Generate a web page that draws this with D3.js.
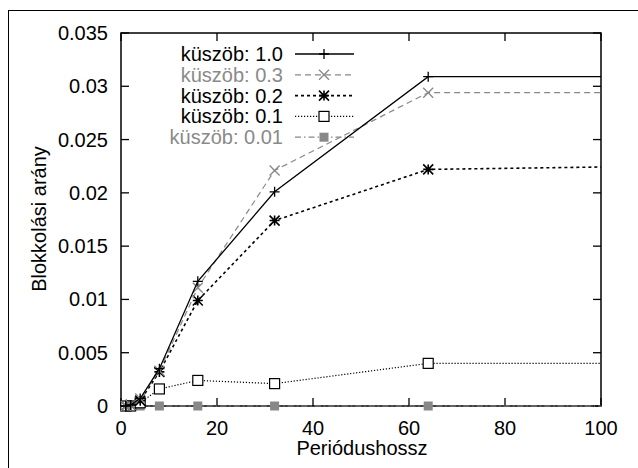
<!DOCTYPE html>
<html><head><meta charset="utf-8">
<script src="https://cdn.jsdelivr.net/npm/d3@7/dist/d3.min.js"></script>
<style>body{margin:0;background:#fff}svg{display:block}text{font-family:"Liberation Sans",Arial,Helvetica,sans-serif}</style>
</head><body><svg id="c" width="638" height="468"></svg>
<script>
const periods = [1, 2, 4, 8, 16, 32, 64, 128];
const seriesNames = ["küszöb: 1.0", "küszöb: 0.3", "küszöb: 0.2", "küszöb: 0.1", "küszöb: 0.01"];
const v10  = [0, 0.0001, 0.0007, 0.0035, 0.0117, 0.0201, 0.0309, 0.0309];
const v03  = [0, 0.0001, 0.0007, 0.0033, 0.0111, 0.0221, 0.0294, 0.0294];
const v02  = [0, 0.0001, 0.0005, 0.0032, 0.0099, 0.0174, 0.0222, 0.0226];
const v01  = [0, 0, 0.0003, 0.0016, 0.0024, 0.0021, 0.0040, 0.0040];
const v001 = [0, 0, 0, 0, 0, 0, 0, 0];
const xTicks = [0, 20, 40, 60, 80, 100];
const yTicks = [0, 0.005, 0.01, 0.015, 0.02, 0.025, 0.03, 0.035];

const styles = [
  {color:"#000", dash:null, w:1.3, marker:"plus"},
  {color:"#888", dash:"6,4", w:1.2, marker:"cross"},
  {color:"#000", dash:"3,3", w:1.6, marker:"star"},
  {color:"#000", dash:"1.2,1.8", w:1.2, marker:"box"},
  {color:"#888", dash:"6,3,1.5,3", w:1.2, marker:"fbox"}
];
const allVals = [v10, v03, v02, v01, v001];

const svg = d3.select("#c");
svg.append("rect").attr("x",8.5).attr("y",10.5).attr("width",640).attr("height",470)
  .attr("fill","none").attr("stroke","#000").attr("stroke-width",1);

const L=121, R=601, T=33, B=406;
const x = d3.scaleLinear().domain([0,100]).range([L,R]);
const y = d3.scaleLinear().domain([0,0.035]).range([B,T]);

svg.append("defs").append("clipPath").attr("id","clp").append("rect")
  .attr("x",L-6).attr("y",T).attr("width",R-L+6).attr("height",B-T+6);

const FS = 20;
const g = svg.append("g");
g.append("rect").attr("x",L).attr("y",T).attr("width",R-L).attr("height",B-T)
  .attr("fill","none").attr("stroke","#000").attr("stroke-width",1.5);
const tl = 8;
xTicks.forEach(t=>{
  g.append("line").attr("x1",x(t)).attr("x2",x(t)).attr("y1",B).attr("y2",B-tl).attr("stroke","#000").attr("stroke-width",1.3);
  g.append("line").attr("x1",x(t)).attr("x2",x(t)).attr("y1",T).attr("y2",T+tl).attr("stroke","#000").attr("stroke-width",1.3);
  g.append("text").attr("x",x(t)).attr("y",435).attr("text-anchor","middle").attr("font-size",FS).text(t);
});
yTicks.forEach(t=>{
  g.append("line").attr("x1",L).attr("x2",L+tl).attr("y1",y(t)).attr("y2",y(t)).attr("stroke","#000").attr("stroke-width",1.3);
  g.append("line").attr("x1",R).attr("x2",R-tl).attr("y1",y(t)).attr("y2",y(t)).attr("stroke","#000").attr("stroke-width",1.3);
  g.append("text").attr("x",L-13).attr("y",y(t)+7).attr("text-anchor","end").attr("font-size",FS).text(d3.format("")(t));
});
g.append("text").attr("x",362).attr("y",455).attr("text-anchor","middle").attr("font-size",FS).text("Periódushossz");
g.append("text").attr("transform","translate(46,219) rotate(-90)").attr("text-anchor","middle").attr("font-size",FS).text("Blokkolási arány");

function marker(sel, type, color, cx, cy){
  const s = 5;
  if(type==="plus"){
    sel.append("path").attr("d",`M${cx-s},${cy}H${cx+s}M${cx},${cy-s}V${cy+s}`).attr("stroke",color).attr("stroke-width",1.3).attr("fill","none");
  } else if(type==="cross"){
    sel.append("path").attr("d",`M${cx-s},${cy-s}L${cx+s},${cy+s}M${cx-s},${cy+s}L${cx+s},${cy-s}`).attr("stroke",color).attr("stroke-width",1.3).attr("fill","none");
  } else if(type==="star"){
    sel.append("path").attr("d",`M${cx-s},${cy}H${cx+s}M${cx},${cy-s}V${cy+s}M${cx-s},${cy-s}L${cx+s},${cy+s}M${cx-s},${cy+s}L${cx+s},${cy-s}`).attr("stroke",color).attr("stroke-width",1.6).attr("fill","none");
  } else if(type==="box"){
    sel.append("rect").attr("x",cx-5).attr("y",cy-5).attr("width",10).attr("height",10).attr("fill","#fff").attr("stroke",color).attr("stroke-width",1.2);
  } else if(type==="fbox"){
    sel.append("rect").attr("x",cx-4.5).attr("y",cy-4.5).attr("width",9).attr("height",9).attr("fill",color).attr("stroke","none");
  }
}

const plot = svg.append("g").attr("clip-path","url(#clp)");
const line = d3.line().x(d=>x(d[0])).y(d=>y(d[1]));
for(let i=allVals.length-1;i>=0;i--){
  const st = styles[i];
  const pts = periods.map((p,j)=>[p, allVals[i][j]]);
  plot.append("path").attr("d",line(pts)).attr("fill","none").attr("stroke",st.color)
    .attr("stroke-width",st.w).attr("stroke-dasharray",st.dash);
  pts.forEach(p=>{ if(p[0]<=100) marker(plot, st.marker, st.color, x(p[0]), y(p[1])); });
}

const lg = svg.append("g");
seriesNames.forEach((n,i)=>{
  const st = styles[i];
  const ly = 54 + i*20.8;
  lg.append("text").attr("x",283).attr("y",ly+7).attr("text-anchor","end").attr("font-size",FS)
    .attr("fill", st.color==="#888" ? "#8a8a8a" : "#000").text(n);
  lg.append("line").attr("x1",295).attr("x2",354).attr("y1",ly).attr("y2",ly).attr("stroke",st.color)
    .attr("stroke-width",st.w).attr("stroke-dasharray",st.dash);
  marker(lg, st.marker, st.color, 324, ly);
});
</script></body></html>
